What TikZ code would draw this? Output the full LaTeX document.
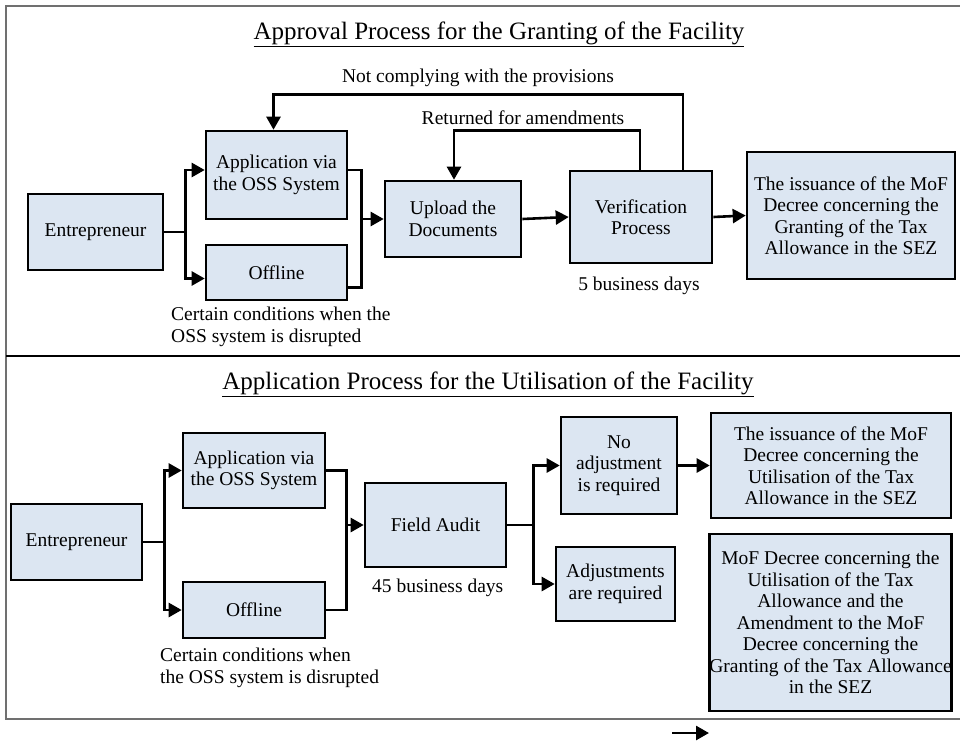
\documentclass[tikz,border=0pt]{standalone}
\usepackage{fontspec}
\setmainfont{Liberation Serif}
\usetikzlibrary{arrows.meta,calc}
\definecolor{boxfill}{HTML}{DCE6F2}
\definecolor{framegray}{HTML}{707070}
\tikzset{
  box/.style={draw=black, line width=2.6pt, fill=boxfill, align=center, inner sep=0pt,
    font=\fontsize{19.5}{21.5}\selectfont},
  arr/.style={line width=2.6pt, -{Triangle[length=13pt,width=14pt]}},
  conn/.style={line width=2.6pt},
  lbl/.style={font=\fontsize{19.5}{21.5}\selectfont, inner sep=0pt},
  ttl/.style={font=\fontsize{25}{27}\selectfont, inner sep=0pt, anchor=base}
}
\begin{document}
\begin{tikzpicture}[x=1pt,y=-1pt]
\useasboundingbox (0,0) rectangle (960,742);
% frame
\draw[framegray, line width=2.8pt] (963,6) -- (6,6) -- (6,719) -- (963,719);
\draw[black, line width=2.4pt] (6,356) -- (962,356);
% titles
\node[ttl] (t1) at (499,39) {\underline{Approval Process for the Granting of the Facility}};
\node[ttl] (t2) at (488,389) {\underline{Application Process for the Utilisation of the Facility}};
% top boxes
\node[box, minimum width=135, minimum height=76] (ent1) at (95.5,232) {Entrepreneur};
\node[box, minimum width=141, minimum height=88] (oss1) at (276.5,175) {Application via\\the OSS System};
\node[box, minimum width=141, minimum height=55] (off1) at (276.5,272.5) {Offline};
\node[box, minimum width=136, minimum height=76] (upl) at (453,219) {Upload the\\Documents};
\node[box, minimum width=142, minimum height=92] (ver) at (641,217) {Verification\\Process};
\node[box, minimum width=208, minimum height=127] (mof1) at (851,215.5) {The issuance of the MoF\\Decree concerning the\\Granting of the Tax\\Allowance in the SEZ};
% top labels
\node[lbl] (l1) at (478,78) {Not complying with the provisions};
\node[lbl] (l2) at (523,118) {Returned for amendments};
\node[lbl, anchor=base] (l3) at (639,290) {5 business days};
\node[lbl, anchor=north west, align=left] (l4) at (171,307) {Certain conditions when the\\OSS system is disrupted};
% top connectors
\draw[arr] (ent1.east) -- ++(21,0) |- ([yshift=5]oss1.west);
\draw[arr] (ent1.east) -- ++(21,0) |- ([yshift=-6]off1.west);
\draw[conn] ([yshift=5]oss1.east) -- ++(13,0) coordinate (m1) |- ([yshift=-15]off1.east);
\draw[arr] (m1 |- upl.west) -- (upl.west);
\draw[arr] (upl.east) -- (ver.west);
\draw[arr] (ver.east) -- (mof1.west);
\draw[arr] ([xshift=-1]ver.north) -- ++(0,-39) -| ([xshift=1]upl.north);
\draw[arr] ([xshift=42]ver.north) -- ++(0,-75) -| ([xshift=-3]oss1.north);
% bottom boxes
\node[box, minimum width=131, minimum height=76] (ent2) at (76.5,542) {Entrepreneur};
\node[box, minimum width=142, minimum height=75] (oss2) at (254,470.5) {Application via\\the OSS System};
\node[box, minimum width=142, minimum height=56] (off2) at (254,610) {Offline};
\node[box, minimum width=141, minimum height=84] (fa) at (435.5,525) {Field Audit};
\node[box, minimum width=116, minimum height=97] (noadj) at (619,465.5) {No\\adjustment\\is required};
\node[box, minimum width=119, minimum height=74] (adj) at (615.5,584) {Adjustments\\are required};
\node[box, minimum width=240, minimum height=105] (mofu) at (831,465.5) {The issuance of the MoF\\Decree concerning the\\Utilisation of the Tax\\Allowance in the SEZ};
\node[box, minimum width=241, minimum height=177] (mofa) at (830.5,622.5) {MoF Decree concerning the\\Utilisation of the Tax\\Allowance and the\\Amendment to the MoF\\Decree concerning the\\Granting of the Tax Allowance\\in the SEZ};
% bottom labels
\node[lbl, anchor=base west] (l5) at (372,592) {45 business days};
\node[lbl, anchor=north west, align=left] (l6) at (160,648) {Certain conditions when\\the OSS system is disrupted};
% bottom connectors
\draw[arr] (ent2.east) -- ++(21,0) |- (oss2.west);
\draw[arr] (ent2.east) -- ++(21,0) |- (off2.west);
\draw[conn] (oss2.east) -- ++(20,0) coordinate (m2) |- (off2.east);
\draw[arr] (m2 |- fa.west) -- (fa.west);
\draw[arr] (fa.east) -- ++(26,0) |- (noadj.west);
\draw[arr] (fa.east) -- ++(26,0) |- (adj.west);
\draw[arr] (noadj.east) -- (mofu.west);
% stray arrow
\coordinate (sa) at (672,733);
\coordinate (sb) at (709,733);
\draw[arr] (sa) -- (sb);
\end{tikzpicture}
\end{document}
